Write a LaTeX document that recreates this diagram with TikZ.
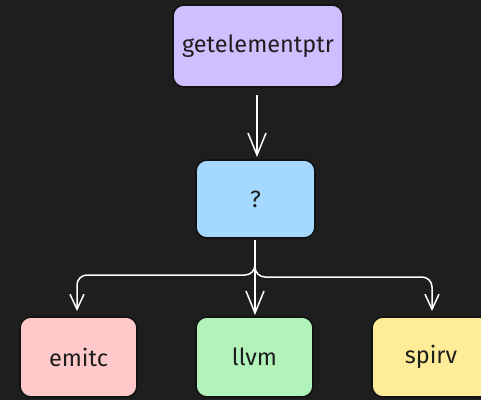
\documentclass[tikz,border=0pt]{standalone}
\usepackage{fontspec}
\setmainfont{Fira Sans}
\usetikzlibrary{arrows.meta}
\definecolor{bg}{HTML}{1E1E1E}
\definecolor{edge}{HTML}{121212}
\definecolor{cpurple}{HTML}{D0BFFF}
\definecolor{cblue}{HTML}{A5D8FF}
\definecolor{cpink}{HTML}{FFC9C9}
\definecolor{cgreen}{HTML}{B2F2BB}
\definecolor{cyellow}{HTML}{FFEC99}
\definecolor{ink}{HTML}{1E1E1E}
\begin{document}
\begin{tikzpicture}[x=1pt,y=-1pt,
  box/.style={draw=edge, line width=1.6pt, rounded corners=11pt, inner sep=0pt, font=\fontsize{23.5}{28}\selectfont, text=ink},
  link/.style={draw=white, line width=1.5pt, rounded corners=10pt},
  bighead/.style={-{Straight Barb[length=22pt,width=18pt,line width=1.5pt]}},
  smallhead/.style={-{Straight Barb[length=15pt,width=14pt,line width=1.5pt]}}]
\fill[bg] (0,0) rectangle (481,400);
\useasboundingbox (0,0) rectangle (481,400);
\clip (0,0) rectangle (481,400);
\node[box, fill=cpurple, minimum width=170pt, minimum height=82pt] (gep) at (258,46) {getelementptr};
\node[box, fill=cblue, minimum width=119pt, minimum height=78pt] (q) at (255.5,199) {?};
\node[box, fill=cpink, minimum width=117pt, minimum height=80pt] (emitc) at (78.5,357) {emitc};
\node[box, fill=cgreen, minimum width=117pt, minimum height=80pt] (llvm) at (254.5,357) {llvm};
\node[box, fill=cyellow, minimum width=118pt, minimum height=80pt] (spirv) at (431,357) {spirv};
\coordinate (top) at (257,95);
\coordinate (topend) at (257,157);
\coordinate (qb) at (255,240);
\coordinate (a1) at (77,311);
\coordinate (a2) at (255,315);
\coordinate (a3) at (432,311);
\draw[link, bighead] (top) -- (topend);
\draw[link, smallhead] (qb) -- (255,275) -- (77,275) -- (a1);
\draw[link, bighead] (qb) -- (a2);
\draw[link, smallhead] (qb) -- (255,277) -- (432,277) -- (a3);
\end{tikzpicture}
\end{document}
